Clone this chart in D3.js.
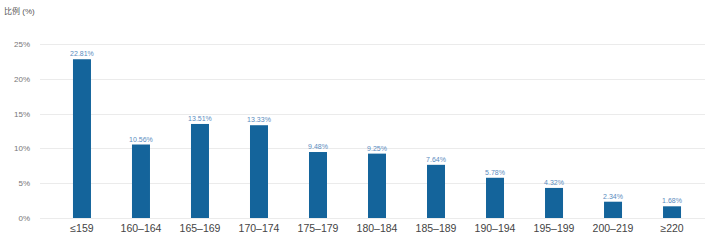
<!DOCTYPE html>
<html>
<head>
<meta charset="utf-8">
<script src="https://cdn.jsdelivr.net/npm/d3@7"></script>
<style>
  body { margin: 0; background: #fff; }
  svg { display: block; font-family: "Helvetica Neue", "Liberation Sans", "Noto Sans CJK SC", sans-serif; }
</style>
</head>
<body>
<div id="chart"></div>
<script>
(function(d3) {
  'use strict';

  var categories = ['≤159', '160–164', '165–169', '170–174', '175–179', '180–184',
                    '185–189', '190–194', '195–199', '200–219', '≥220'];
  var values = [22.81, 10.56, 13.51, 13.33, 9.48, 9.25, 7.64, 5.78, 4.32, 2.34, 1.68];
  var yTicks = [0, 5, 10, 15, 20, 25];

  var width = 717;
  var height = 248;
  var gridLeft = 40, gridRight = 705;
  var top = 44, bottom = 218;

  var svg = d3.select('#chart')
    .append('svg')
    .attr('width', width)
    .attr('height', height);

  var x = d3.scaleBand()
    .domain(categories)
    .range([52.5, 701.5])
    .paddingInner(0.695)
    .paddingOuter(0.347);

  var y = d3.scaleLinear()
    .domain([0, 25])
    .range([bottom, top]);

  // title
  svg.append('text')
    .attr('x', 4)
    .attr('y', 14)
    .attr('font-size', 8)
    .attr('fill', '#555')
    .text('比例 (%)');

  // grid
  svg.append('g')
    .selectAll('line')
    .data(yTicks)
    .enter()
    .append('line')
    .attr('x1', gridLeft)
    .attr('x2', gridRight)
    .attr('y1', function(d) { return Math.round(y(d)) + 0.5; })
    .attr('y2', function(d) { return Math.round(y(d)) + 0.5; })
    .attr('stroke', '#ebebeb')
    .attr('stroke-width', 1);

  // y axis labels
  var yAxis = d3.axisLeft(y)
    .tickValues(yTicks)
    .tickSize(0)
    .tickPadding(8)
    .tickFormat(function(d) { return d + '%'; });

  svg.append('g')
    .attr('transform', 'translate(' + (gridLeft - 2) + ',0)')
    .call(yAxis)
    .call(function(g) { g.select('.domain').remove(); })
    .selectAll('text')
    .attr('font-size', 8)
    .attr('fill', '#777');

  // bars
  svg.append('g')
    .selectAll('rect')
    .data(values)
    .enter()
    .append('rect')
    .attr('x', function(d, i) { return x(categories[i]); })
    .attr('y', function(d) { return y(d); })
    .attr('width', x.bandwidth())
    .attr('height', function(d) { return bottom - y(d); })
    .attr('fill', '#14649b');

  // value labels
  svg.append('g')
    .selectAll('text')
    .data(values)
    .enter()
    .append('text')
    .attr('x', function(d, i) { return x(categories[i]) + x.bandwidth() / 2; })
    .attr('y', function(d) { return y(d) - 3; })
    .attr('text-anchor', 'middle')
    .attr('font-size', 7)
    .attr('fill', '#5b8cc0')
    .text(function(d) { return d.toFixed(2) + '%'; });

  // x axis labels
  var xAxis = d3.axisBottom(x)
    .tickSize(0)
    .tickPadding(7);

  svg.append('g')
    .attr('transform', 'translate(0,' + bottom + ')')
    .call(xAxis)
    .call(function(g) { g.select('.domain').remove(); })
    .selectAll('text')
    .attr('font-size', 10.5)
    .attr('fill', '#444');

})(window.d3);
</script>
</body>
</html>
